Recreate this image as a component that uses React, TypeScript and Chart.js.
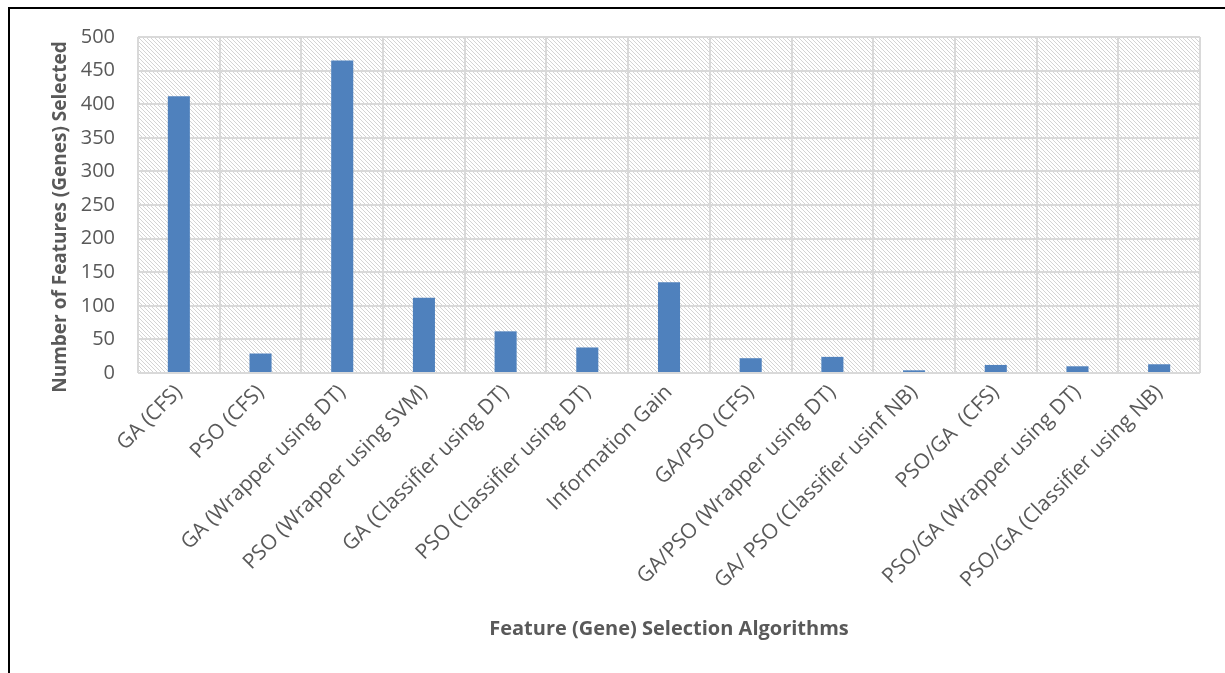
import React, { useEffect, useRef } from "react";
import { Chart, registerables } from "chart.js";

Chart.register(...registerables);

const categories = [
  "GA (CFS)",
  "PSO (CFS)",
  "GA (Wrapper using DT)",
  "PSO (Wrapper using SVM)",
  "GA (Classifier using DT)",
  "PSO (Classifier using DT)",
  "Information Gain",
  "GA/PSO (CFS)",
  "GA/PSO (Wrapper using DT)",
  "GA/ PSO (Classifier usinf NB)",
  "PSO/GA  (CFS)",
  "PSO/GA (Wrapper using DT)",
  "PSO/GA (Classifier using NB)",
];

const featureCounts = [412, 29, 465, 112, 62, 38, 135, 22, 24, 4, 12, 10, 13];

const yMin = 0;
const yMax = 500;
const yStep = 50;

const xTitle = "Feature (Gene) Selection Algorithms";
const yTitle = "Number of Features (Genes) Selected";

const FONT = "'Open Sans', sans-serif";
const TEXT = "#595959";

function makePattern(ctx: CanvasRenderingContext2D) {
  const c = document.createElement("canvas");
  c.width = 4;
  c.height = 4;
  const p = c.getContext("2d")!;
  p.fillStyle = "#ffffff";
  p.fillRect(0, 0, 4, 4);
  p.fillStyle = "#d4d4d4";
  for (let i = 0; i < 4; i++) p.fillRect(i, i, 1, 1);
  return ctx.createPattern(c, "repeat");
}

const bgPlugin = {
  id: "hatchBg",
  beforeDraw(chart: any) {
    const { ctx, chartArea } = chart;
    if (!chartArea) return;
    ctx.save();
    const pat = makePattern(ctx);
    if (pat) ctx.fillStyle = pat;
    ctx.fillRect(chartArea.left, chartArea.top, chartArea.right - chartArea.left, chartArea.bottom - chartArea.top);
    ctx.restore();
  },
};

const titlePlugin = {
  id: "axisTitles",
  afterDraw(chart: any) {
    const { ctx, chartArea } = chart;
    ctx.save();
    ctx.fillStyle = TEXT;
    ctx.textAlign = "center";
    ctx.textBaseline = "middle";
    ctx.font = `bold 20px ${FONT}`;
    ctx.fillText(xTitle, (chartArea.left + chartArea.right) / 2, 620);
    ctx.font = `bold 19px ${FONT}`;
    ctx.translate(51, 208);
    ctx.rotate(-Math.PI / 2);
    ctx.fillText(yTitle, 0, 0);
    ctx.restore();
  },
};

export default function App() {
  const ref = useRef<HTMLCanvasElement>(null);

  useEffect(() => {
    if (!ref.current) return;
    const chart = new Chart(ref.current, {
      type: "bar",
      data: {
        labels: categories,
        datasets: [
          {
            data: featureCounts,
            backgroundColor: "#4f81bd",
            borderWidth: 0,
            barPercentage: 1,
            categoryPercentage: 0.27,
          },
        ],
      },
      options: {
        responsive: false,
        animation: false,
        layout: { padding: { top: 28, right: 25, bottom: 0, left: 0 } },
        plugins: {
          legend: { display: false },
          tooltip: { enabled: false },
        },
        scales: {
          x: {
            grid: { color: "#d9d9d9", lineWidth: 2, drawTicks: false, offset: true },
            border: { display: false },
            ticks: {
              color: TEXT,
              font: { family: FONT, size: 21 },
              maxRotation: 45,
              minRotation: 45,
              autoSkip: false,
              padding: 7,
            },
            afterFit: (s: any) => {
              s.height = 300;
            },
          },
          y: {
            min: yMin,
            max: yMax,
            grid: {
              color: "#d9d9d9",
              lineWidth: 2,
              drawTicks: true,
              tickLength: 23,
              tickColor: "rgba(0,0,0,0)",
            },
            border: { display: false },
            ticks: {
              stepSize: yStep,
              color: TEXT,
              font: { family: FONT, size: 20 },
              padding: 0,
            },
            afterFit: (s: any) => {
              s.width = 128;
            },
          },
        },
      },
      plugins: [bgPlugin, titlePlugin],
    });
    return () => chart.destroy();
  }, []);

  return (
    <div
      style={{
        position: "fixed",
        top: 7,
        left: 8,
        width: 1217,
        height: 666,
        borderTop: "2px solid #000",
        borderLeft: "2px solid #000",
        boxSizing: "border-box",
        background: "#fff",
      }}
    >
      <canvas ref={ref} width={1215} height={664} style={{ display: "block" }} />
    </div>
  );
}
